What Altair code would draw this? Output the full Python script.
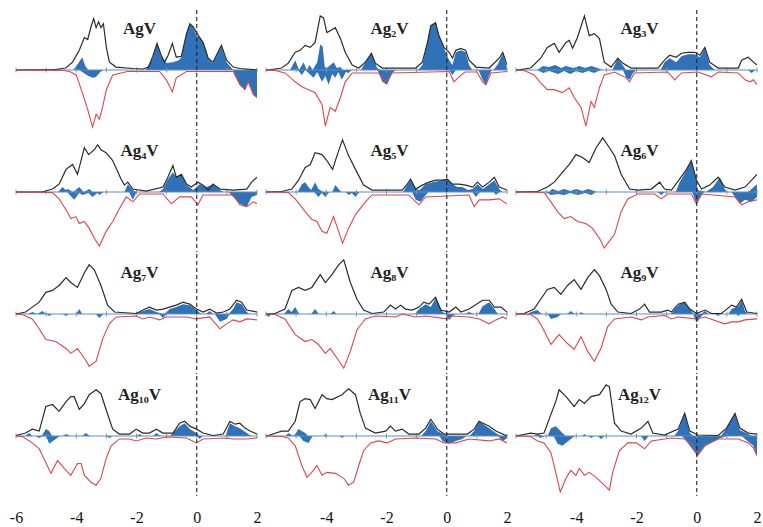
import altair as alt
import pandas as pd

NAMES = ["AgV", "Ag₂V", "Ag₃V", "Ag₄V", "Ag₅V", "Ag₆V",
         "Ag₇V", "Ag₈V", "Ag₉V", "Ag₁₀V", "Ag₁₁V", "Ag₁₂V"]
TICK_E = [-6, -5, -4, -3, -2, -1, 0, 1, 2]
XLAB_FIRST = [-6, -4, -2, 0, 2]
XLAB_OTHER = [-4, -2, 0, 2]

# ---- AgV ----
AGV_UP = [(-6,0),(-4.7,0.5),(-4.35,2),(-4.12,8),(-3.9,20),(-3.73,33),(-3.62,31),(-3.5,45),(-3.42,52),(-3.34,43),(-3.26,49),(-3.18,43),(-3.1,47),(-3.0,23),(-2.9,8),(-2.68,3),(-2.1,1.5),(-1.79,1),(-1.6,3),(-1.46,14),(-1.32,27),(-1.18,15),(-1.07,8),(-0.95,15),(-0.81,27),(-0.68,13),(-0.51,14),(-0.34,37),(-0.23,47),(-0.12,44),(-0.01,38),(0.1,33),(0.21,28),(0.38,12),(0.54,8),(0.82,25),(0.99,10),(1.21,3),(1.43,1.5),(2,0)]
AGV_DN = [(-6,0),(-4.4,-0.5),(-4.18,-2),(-4.0,-5),(-3.8,-23),(-3.62,-40),(-3.46,-58),(-3.34,-45),(-3.23,-50),(-3.12,-37),(-3.0,-20),(-2.79,-5),(-2.3,-1.5),(-1.23,-1.5),(-1.01,-10),(-0.81,-22),(-0.68,-8),(-0.34,-1.5),(1.21,-1.5),(1.43,-15),(1.6,-20),(1.71,-12),(1.88,-25),(2,-28)]
AGV_VUP = [(-6,0),(-4.1,0),(-3.95,6),(-3.8,13),(-3.7,4),(-3.6,0),(-1.7,0),(-1.46,12),(-1.32,27),(-1.18,14),(-1.01,7),(-0.79,8),(-0.6,10),(-0.51,13),(-0.34,37),(-0.23,47),(-0.12,43),(-0.01,35),(0.1,33),(0.23,28),(0.38,12),(0.54,7),(0.82,24),(0.99,8),(1.21,0),(2,0)]
AGV_VDN = [(-6,0),(-3.9,0),(-3.75,-3),(-3.6,-6),(-3.45,-8),(-3.35,-7),(-3.2,-2),(-3.1,0),(1.2,0),(1.43,-15),(1.6,-20),(1.71,-12),(1.88,-25),(2,-28)]

# ---- Ag2V ----
AG2V_UP = [(-6,0),(-5.92,0),(-5.48,2),(-5.26,7),(-5.03,18),(-4.87,20),(-4.7,25),(-4.53,23),(-4.37,28),(-4.2,55),(-4.09,53),(-3.98,38),(-3.87,40),(-3.7,43),(-3.53,32),(-3.37,18),(-3.14,5),(-2.92,2),(-2.7,8),(-2.5,17),(-2.37,7),(-2.14,2),(-1.03,2),(-0.81,8),(-0.64,28),(-0.53,45),(-0.37,48),(-0.26,35),(-0.09,23),(0.08,18),(0.19,12),(0.3,20),(0.47,22),(0.63,20),(0.74,10),(0.97,3),(1.41,2),(1.74,12),(1.86,18),(2,5)]
AG2V_DN = [(-6,0),(-5.7,-0.5),(-5.37,-3),(-5.03,-12),(-4.81,-17),(-4.59,-20),(-4.37,-23),(-4.14,-35),(-4.03,-57),(-3.87,-38),(-3.7,-42),(-3.53,-28),(-3.37,-12),(-3.14,-3),(-2.26,-3),(-2.03,-13),(-1.81,-3),(0.08,-1.5),(0.24,-12),(0.41,-7),(0.6,-2),(1.0,-2),(1.19,-12),(1.3,-15),(1.47,-3),(2,-1.5)]
AG2V_VUP = [(-6,0),(-5.2,0),(-5.03,10),(-4.9,0),(-4.75,8),(-4.65,0),(-4.55,5),(-4.45,0),(-4.3,8),(-4.2,26),(-4.12,24),(-4.05,3),(-3.98,2),(-3.75,8),(-3.65,2),(-3.53,3),(-3.45,0),(-2.85,0),(-2.7,8),(-2.5,17),(-2.31,2),(-2.2,0),(-0.95,0),(-0.81,5),(-0.64,28),(-0.53,45),(-0.37,48),(-0.26,35),(-0.09,22),(0.08,10),(0.19,5),(0.3,18),(0.47,20),(0.63,18),(0.74,5),(0.85,0),(1.55,0),(1.7,6),(1.86,17),(1.99,3),(2,0)]
AG2V_VDN = [(-6,0),(-4.95,0),(-4.81,-5),(-4.7,0),(-4.42,-8),(-4.3,-2),(-4.14,-12),(-4.03,-6),(-3.92,-15),(-3.8,-4),(-3.7,-8),(-3.6,-2),(-3.48,-10),(-3.35,-2),(-3.26,-3),(-3.15,0),(-2.3,0),(-2.14,-12),(-1.98,-15),(-1.81,-3),(-1.7,0),(0.08,0),(0.19,-5),(0.3,0),(1.05,0),(1.19,-10),(1.3,-15),(1.41,-5),(1.5,0),(2,0)]

# ---- Ag3V ----
AG3V_UP = [(-6,0),(-5.96,0),(-5.51,2),(-5.18,12),(-4.96,23),(-4.73,27),(-4.57,18),(-4.34,28),(-4.23,30),(-4.12,22),(-3.96,33),(-3.73,55),(-3.57,35),(-3.4,37),(-3.23,32),(-3.07,8),(-2.84,3),(-2.62,12),(-2.46,7),(-2.18,2),(-1.29,2),(-1.07,10),(-0.9,15),(-0.68,13),(-0.51,17),(-0.29,18),(-0.07,18),(0.1,15),(0.27,23),(0.43,8),(0.71,2),(1.38,2),(1.49,10),(1.71,13),(1.88,8),(2,5)]
AG3V_DN = [(-6,0),(-5.73,-0.5),(-5.4,-5),(-5.18,-13),(-4.96,-20),(-4.73,-20),(-4.46,-23),(-4.23,-18),(-4.07,-28),(-3.84,-38),(-3.68,-57),(-3.51,-32),(-3.4,-38),(-3.23,-18),(-3.07,-5),(-2.73,-2),(-2.34,-8),(-2.23,-12),(-2.07,-3),(-0.96,-2),(-0.73,-10),(-0.51,-3),(0.04,-2),(0.49,-7),(0.71,-2),(1.38,-3),(1.6,-10),(1.77,-12),(1.88,-10),(2,-15)]
AG3V_VUP = [(-6,0),(-5.3,0),(-5.1,4),(-4.9,3),(-4.7,5),(-4.5,2),(-4.35,4),(-4.1,2),(-3.9,4),(-3.7,2),(-3.5,4),(-3.3,2),(-3.1,0),(-2.8,0),(-2.62,12),(-2.46,5),(-2.35,0),(-1.2,0),(-1.07,8),(-0.9,12),(-0.68,8),(-0.51,14),(-0.29,16),(-0.07,16),(0.1,13),(0.27,22),(0.43,5),(0.6,0),(2,0)]
AG3V_VDN = [(-6,0),(-5.3,0),(-5.1,-3),(-4.9,-1),(-4.6,-4),(-4.4,-1),(-4.2,-4),(-4.0,-1),(-3.8,-3),(-3.6,-1),(-3.4,-3),(-3.2,0),(-2.45,0),(-2.34,-8),(-2.23,-10),(-2.12,-3),(-2.0,0),(1.7,0),(1.82,-3),(1.95,0),(2,0)]

# ---- Ag4V ----
AG4V_UP = [(-6,0),(-5.12,0),(-4.79,3),(-4.57,8),(-4.34,23),(-4.12,28),(-3.96,18),(-3.73,45),(-3.59,38),(-3.4,43),(-3.29,48),(-3.18,43),(-3.01,40),(-2.79,32),(-2.51,13),(-2.4,7),(-2.29,10),(-2.12,3),(-1.68,1),(-1.12,5),(-0.96,15),(-0.79,27),(-0.68,15),(-0.51,18),(-0.34,8),(-0.18,5),(0.04,10),(0.21,7),(0.38,2),(0.54,8),(0.77,3),(1.21,2),(1.66,3),(1.82,10),(2,15)]
AG4V_DN = [(-6,0),(-4.79,-0.5),(-4.57,-7),(-4.34,-18),(-4.18,-27),(-4.01,-25),(-3.9,-32),(-3.73,-30),(-3.57,-37),(-3.4,-47),(-3.23,-55),(-3.01,-40),(-2.79,-30),(-2.57,-17),(-2.34,-5),(-2.12,-10),(-1.9,-2),(-1.12,-2),(-0.84,-12),(-0.57,-5),(-0.18,-5),(0.04,-13),(0.21,-3),(1.21,-3),(1.43,-13),(1.66,-15),(1.88,-10),(2,-12)]
AG4V_VUP = [(-6,0),(-4.6,0),(-4.46,5),(-4.35,2),(-4.29,3),(-4.1,0),(-3.9,5),(-3.75,0),(-3.57,3),(-3.45,0),(-2.4,0),(-2.29,8),(-2.12,2),(-2.0,0),(-1.25,0),(-1.12,3),(-0.96,13),(-0.79,20),(-0.68,15),(-0.51,18),(-0.34,7),(-0.12,2),(0.1,8),(0.32,5),(0.54,8),(0.77,2),(0.9,0),(2,0)]
AG4V_VDN = [(-6,0),(-4.3,0),(-4.07,-8),(-3.9,-1),(-3.79,-3),(-3.6,-1),(-3.46,-5),(-3.3,-1),(-3.23,-3),(-3.1,0),(-2.25,0),(-2.12,-8),(-2.0,0),(1.05,0),(1.21,-5),(1.43,-12),(1.66,-15),(1.82,-5),(2,-3)]

# ---- Ag5V ----
AG5V_UP = [(-6,0),(-5.48,0.5),(-5.14,3),(-4.92,12),(-4.7,25),(-4.53,28),(-4.37,40),(-4.14,38),(-3.98,32),(-3.79,23),(-3.61,40),(-3.46,53),(-3.26,37),(-3.03,23),(-2.76,7),(-2.48,2),(-1.48,2),(-1.31,8),(-1.2,13),(-1.03,3),(-0.81,7),(-0.59,10),(-0.37,12),(-0.14,12),(0.02,13),(0.19,8),(0.41,8),(0.63,7),(0.86,5),(1.02,10),(1.19,5),(1.41,10),(1.58,15),(1.74,5),(2,2)]
AG5V_DN = [(-6,0),(-5.26,-0.5),(-5.03,-7),(-4.7,-20),(-4.48,-28),(-4.31,-30),(-4.14,-40),(-3.98,-42),(-3.76,-25),(-3.59,-40),(-3.46,-52),(-3.26,-37),(-3.03,-23),(-2.7,-10),(-2.48,-3),(-1.26,-3),(-1.03,-10),(-0.92,-13),(-0.7,-5),(0.74,-3),(0.91,-15),(1.08,-8),(1.41,-8),(1.74,-7),(2,-12)]
AG5V_VUP = [(-6,0),(-4.95,0),(-4.81,8),(-4.7,10),(-4.59,5),(-4.5,2),(-4.37,10),(-4.26,3),(-4.1,0),(-3.8,0),(-3.7,7),(-3.59,3),(-3.5,0),(-1.45,0),(-1.31,7),(-1.2,12),(-1.03,3),(-0.9,2),(-0.7,8),(-0.48,10),(-0.14,12),(0.02,13),(0.19,8),(0.35,5),(0.52,5),(0.7,2),(0.86,3),(1.02,8),(1.2,3),(1.41,8),(1.58,12),(1.74,3),(1.85,0),(2,0)]
AG5V_VDN = [(-6,0),(-4.4,0),(-4.26,-5),(-4.15,-1),(-4.03,-5),(-3.9,0),(-3.35,0),(-3.26,-3),(-3.15,-1),(-3.03,-5),(-2.9,0),(-1.15,0),(-1.03,-8),(-0.87,-10),(-0.7,-3),(-0.6,0),(0.85,0),(0.97,-5),(1.1,0),(1.55,0),(1.63,-3),(1.75,0),(2,0)]

# ---- Ag6V ----
AG6V_UP = [(-6,0),(-5.29,0.5),(-4.96,5),(-4.73,10),(-4.46,20),(-4.23,28),(-4.01,38),(-3.79,35),(-3.57,30),(-3.34,45),(-3.12,55),(-2.9,45),(-2.73,37),(-2.51,18),(-2.23,3),(-1.96,2),(-1.51,3),(-1.23,10),(-1.07,3),(-0.84,2),(-0.57,13),(-0.34,23),(-0.18,32),(-0.01,12),(0.16,3),(0.43,7),(0.71,15),(0.93,5),(1.27,2),(1.6,5),(1.82,12),(2,18)]
AG6V_DN = [(-6,0),(-5.07,-0.5),(-4.84,-10),(-4.62,-20),(-4.4,-27),(-4.18,-25),(-3.96,-30),(-3.68,-32),(-3.46,-37),(-3.23,-47),(-3.07,-57),(-2.9,-50),(-2.73,-43),(-2.51,-20),(-2.29,-7),(-1.96,-2),(-1.4,-2),(-1.18,-7),(-0.96,-2),(-0.18,-2),(-0.01,-12),(0.16,-2),(1.27,-5),(1.49,-13),(1.71,-10),(2,-8)]
AG6V_VUP = [(-6,0),(-4.9,0),(-4.8,3),(-4.6,1),(-4.4,3),(-4.2,1),(-4.0,3),(-3.8,1),(-3.6,3),(-3.4,1),(-3.3,0),(-0.7,0),(-0.57,10),(-0.34,22),(-0.18,32),(-0.04,15),(0.04,2),(0.3,0),(0.54,5),(0.77,15),(0.93,3),(1.0,0),(1.7,0),(1.82,3),(2,8)]
AG6V_VDN = [(-6,0),(-5.0,0),(-4.85,-3),(-4.6,-2),(-4.4,-3),(-4.2,-1),(-3.95,-3),(-3.7,-1),(-3.5,-3),(-3.35,0),(-1.3,0),(-1.18,-3),(-1.05,0),(-0.15,0),(-0.01,-12),(0.16,-3),(0.25,0),(1.15,0),(1.27,-5),(1.43,-12),(1.6,-8),(1.82,-10),(2,-5)]

# ---- Ag7V ----
AG7V_UP = [(-6,0),(-5.68,2),(-5.46,7),(-5.23,12),(-5.01,22),(-4.79,24),(-4.57,29),(-4.34,37),(-4.18,32),(-3.96,27),(-3.73,42),(-3.57,50),(-3.4,45),(-3.18,29),(-2.96,9),(-2.73,2),(-2.01,0.5),(-1.79,4),(-1.57,7),(-1.34,4),(-1.12,5),(-0.9,7),(-0.68,9),(-0.46,12),(-0.23,10),(-0.01,5),(0.21,2),(0.43,5),(0.66,1),(0.88,2),(1.1,5),(1.32,14),(1.49,12),(1.66,4),(2,2)]
AG7V_DN = [(-6,0),(-5.79,-0.5),(-5.46,-5),(-5.23,-15),(-5.01,-26),(-4.68,-28),(-4.34,-35),(-4.18,-40),(-3.96,-35),(-3.73,-45),(-3.57,-53),(-3.34,-48),(-3.12,-25),(-2.9,-10),(-2.68,-3),(-2.01,-2),(-1.79,-5),(-1.57,-3),(-1.23,-6),(-1.01,-3),(-0.34,-3),(-0.01,-5),(0.43,-3),(0.77,-15),(0.99,-10),(1.21,-6),(1.43,-8),(1.66,-5),(2,-6)]
AG7V_VUP = [(-6,0),(-5.6,0),(-5.46,2),(-5.3,0),(-5.12,3),(-5.0,0),(-4.0,0),(-3.9,5),(-3.8,0),(-2.0,0),(-1.9,2),(-1.57,5),(-1.34,2),(-1.1,0),(-1.0,2),(-0.9,5),(-0.68,7),(-0.46,10),(-0.23,9),(-0.01,4),(0.15,0),(0.3,0),(0.43,3),(0.55,0),(1.05,0),(1.21,5),(1.32,12),(1.49,10),(1.66,2),(1.75,0),(2,0)]
AG7V_VDN = [(-6,0),(-5.0,0),(-4.9,-2),(-4.8,0),(-4.45,0),(-4.34,-2),(-4.25,0),(-3.35,0),(-3.23,-4),(-3.1,0),(-1.25,0),(-1.12,-4),(-1.0,0),(0.6,0),(0.77,-8),(0.99,-5),(1.1,0),(2,0)]

# ---- Ag8V ----
AG8V_UP = [(-6,0),(-5.7,0.5),(-5.37,5),(-5.14,24),(-4.92,27),(-4.7,24),(-4.48,27),(-4.2,40),(-4.03,32),(-3.81,40),(-3.59,50),(-3.42,55),(-3.2,32),(-2.98,15),(-2.76,4),(-2.48,0.5),(-2.09,2),(-1.87,9),(-1.7,5),(-1.53,9),(-1.37,5),(-1.14,4),(-0.92,7),(-0.76,12),(-0.59,10),(-0.37,17),(-0.2,4),(0.08,2),(0.3,7),(0.47,2),(0.74,5),(1.19,14),(1.41,14),(1.58,7),(1.8,7),(2,2)]
AG8V_DN = [(-6,0),(-5.7,-0.5),(-5.37,-5),(-5.03,-21),(-4.7,-28),(-4.48,-26),(-4.26,-31),(-4.03,-40),(-3.87,-35),(-3.64,-45),(-3.42,-55),(-3.2,-38),(-2.98,-16),(-2.7,-5),(-2.37,-2),(-1.7,-3),(-1.48,0),(-1.03,-3),(-0.7,-2),(0.02,-5),(0.19,-2),(0.74,-3),(1.08,-5),(1.41,-10),(1.63,-6),(1.86,-3),(2,-5)]
AG8V_VUP = [(-6,0),(-5.4,0),(-5.26,5),(-5.15,2),(-5.03,7),(-4.9,0),(-4.5,0),(-4.37,5),(-4.25,0),(-3.85,0),(-3.76,3),(-3.65,0),(-1.05,0),(-0.92,5),(-0.7,10),(-0.53,7),(-0.37,16),(-0.26,10),(-0.14,2),(0.0,0),(0.6,0),(0.74,2),(0.9,0),(1.05,0),(1.19,8),(1.41,12),(1.58,5),(1.7,0),(2,0)]
AG8V_VDN = [(-6,0),(-5.92,-3),(-5.8,0),(-0.05,0),(0.08,-6),(0.19,-2),(0.3,0),(2,0)]

# ---- Ag9V ----
AG9V_UP = [(-6,0),(-5.73,0.5),(-5.4,5),(-5.18,15),(-4.96,25),(-4.73,27),(-4.51,20),(-4.29,29),(-4.07,35),(-3.84,25),(-3.62,37),(-3.4,45),(-3.23,39),(-3.01,25),(-2.84,10),(-2.62,2),(-2.18,0.5),(-1.9,5),(-1.73,10),(-1.57,2),(-1.18,2),(-0.96,4),(-0.84,2),(-0.62,10),(-0.4,12),(-0.23,5),(-0.01,0.5),(0.27,4),(0.49,0.5),(0.82,0.5),(1.16,9),(1.32,7),(1.49,15),(1.66,2),(2,0.5)]
AG9V_DN = [(-6,0),(-5.51,-0.5),(-5.29,-5),(-5.1,-15),(-4.84,-31),(-4.57,-21),(-4.29,-30),(-4.07,-36),(-3.84,-23),(-3.62,-38),(-3.4,-48),(-3.18,-35),(-2.96,-13),(-2.73,-5),(-2.18,-3),(-1.84,-6),(-1.62,-3),(-1.07,-1.5),(-0.84,-5),(-0.62,-3),(-0.01,-5),(0.27,-3),(0.93,-10),(1.16,-8),(1.38,-8),(1.6,-6),(2,-5)]
AG9V_VUP = [(-6,0),(-5.6,0),(-5.51,2),(-5.29,4),(-5.15,0),(-4.3,0),(-4.18,3),(-4.05,0),(-3.9,0),(-3.84,2),(-3.75,0),(-0.85,0),(-0.73,5),(-0.57,10),(-0.4,12),(-0.23,5),(-0.1,0),(0.15,0),(0.27,3),(0.4,0),(1.05,0),(1.16,5),(1.38,8),(1.49,14),(1.6,3),(1.7,0),(2,0)]
AG9V_VDN = [(-6,0),(-4.95,0),(-4.84,-5),(-4.62,-3),(-4.5,0),(-0.12,0),(-0.01,-9),(0.16,-2),(0.25,0),(0.6,0),(0.71,-2),(0.8,0),(1.3,0),(1.38,-2),(1.45,0),(2,0)]

# ---- Ag10V ----
AG10V_UP = [(-6,0.5),(-5.68,3),(-5.46,7),(-5.23,5),(-5.01,30),(-4.79,32),(-4.57,25),(-4.34,35),(-4.18,40),(-4.07,40),(-3.9,27),(-3.73,33),(-3.57,42),(-3.34,47),(-3.18,43),(-3.01,27),(-2.79,7),(-2.57,2),(-2.23,2),(-2.01,7),(-1.79,3),(-1.57,3),(-1.34,7),(-1.12,3),(-0.79,3),(-0.57,13),(-0.4,15),(-0.23,10),(-0.01,7),(0.21,3),(0.54,0.5),(0.88,2),(1.1,15),(1.27,12),(1.43,13),(1.6,8),(1.77,5),(2,2)]
AG10V_DN = [(-6,0),(-5.79,-0.5),(-5.46,-7),(-5.23,-13),(-5.01,-27),(-4.84,-38),(-4.62,-25),(-4.4,-33),(-4.18,-40),(-3.96,-28),(-3.84,-28),(-3.73,-40),(-3.51,-47),(-3.34,-50),(-3.18,-43),(-3.01,-23),(-2.84,-10),(-2.57,-3),(-2.23,-3),(-2.01,-5),(-1.68,-2),(-1.34,-3),(-1.01,-1),(-0.34,-2),(-0.01,-7),(0.21,-3),(0.99,-2),(1.21,-3),(1.66,-3),(2,-2)]
AG10V_VUP = [(-6,0),(-5.7,0),(-5.57,3),(-5.45,0),(-5.15,0),(-5.01,7),(-4.9,5),(-4.8,0),(-4.45,0),(-4.34,2),(-4.2,0),(-3.8,0),(-3.68,3),(-3.55,0),(-2.0,0),(-1.9,2),(-1.8,0),(-1.45,0),(-1.34,3),(-1.2,0),(-0.9,0),(-0.79,3),(-0.57,10),(-0.4,13),(-0.23,7),(-0.01,3),(0.1,0),(0.95,0),(1.1,13),(1.27,10),(1.43,8),(1.66,3),(1.8,0),(2,0)]
AG10V_VDN = [(-6,0),(-5.35,0),(-5.23,-2),(-5.1,0),(-5.0,0),(-4.9,-8),(-4.68,-3),(-4.55,0),(-3.0,0),(-2.9,-2),(-2.8,0),(0.0,0),(0.1,-3),(0.2,0),(2,0)]

# ---- Ag11V ----
AG11V_UP = [(-6,0),(-5.92,0.5),(-5.48,5),(-5.26,5),(-5.03,15),(-4.87,35),(-4.7,38),(-4.53,37),(-4.37,28),(-4.14,42),(-3.98,38),(-3.81,37),(-3.48,42),(-3.26,48),(-3.03,42),(-2.87,23),(-2.7,8),(-2.37,3),(-2.03,5),(-1.87,10),(-1.7,5),(-1.48,7),(-1.26,2),(-0.92,2),(-0.7,8),(-0.53,17),(-0.31,7),(-0.09,2),(0.24,2),(0.69,2),(0.91,7),(1.07,15),(1.41,10),(1.63,5),(2,0)]
AG11V_DN = [(-6,0),(-5.48,-0.5),(-5.26,-2),(-5.03,-10),(-4.81,-30),(-4.64,-42),(-4.48,-37),(-4.31,-30),(-4.14,-40),(-3.98,-37),(-3.7,-38),(-3.42,-43),(-3.26,-50),(-3.09,-47),(-2.92,-30),(-2.76,-15),(-2.53,-7),(-2.26,-5),(-1.98,-7),(-1.7,-3),(-1.03,-2),(-0.37,-3),(-0.09,-7),(0.3,-7),(0.74,-3),(1.41,-5),(1.74,-3),(2,-7)]
AG11V_VUP = [(-6,0),(-5.35,0),(-5.26,3),(-5.1,0),(-5.03,2),(-4.92,7),(-4.7,3),(-4.6,0),(-4.1,0),(-4.03,2),(-3.95,0),(-0.85,0),(-0.7,5),(-0.53,15),(-0.31,5),(-0.14,2),(0.0,0),(0.75,0),(0.91,5),(1.07,15),(1.41,8),(1.63,3),(1.8,0),(2,0)]
AG11V_VDN = [(-6,0),(-4.9,0),(-4.76,-5),(-4.59,-7),(-4.45,0),(-3.55,0),(-3.48,-2),(-3.4,0),(-0.25,0),(-0.14,-5),(0.08,-8),(0.3,-5),(0.52,-3),(0.65,0),(1.7,0),(1.86,-5),(2,-2)]

# ---- Ag12V ----
AG12V_UP = [(-6,0),(-5.51,3),(-5.29,2),(-5.07,3),(-4.84,22),(-4.68,35),(-4.57,47),(-4.34,40),(-4.07,30),(-3.9,37),(-3.73,33),(-3.51,40),(-3.23,42),(-3.01,52),(-2.9,50),(-2.73,13),(-2.51,5),(-2.18,2),(-1.84,8),(-1.62,15),(-1.46,3),(-1.07,1),(-0.62,7),(-0.4,23),(-0.23,5),(0.04,1),(0.71,0.5),(0.99,8),(1.27,23),(1.43,8),(1.71,3),(2,2)]
AG12V_DN = [(-6,0),(-5.51,-0.5),(-5.29,-5),(-5.07,-7),(-4.84,-17),(-4.68,-37),(-4.53,-57),(-4.34,-43),(-4.18,-35),(-4.01,-40),(-3.9,-33),(-3.73,-40),(-3.57,-37),(-3.34,-42),(-3.07,-50),(-2.9,-55),(-2.79,-37),(-2.57,-15),(-2.29,-7),(-2.01,-7),(-1.73,-13),(-1.51,-5),(-0.84,-2),(-0.4,-3),(-0.18,-8),(0.02,-20),(0.27,-10),(0.71,-3),(1.38,-3),(1.71,-7),(1.88,-12),(2,-20)]
AG12V_VUP = [(-6,0),(-5.4,0),(-5.29,2),(-5.1,0),(-4.95,0),(-4.84,8),(-4.68,10),(-4.46,3),(-4.35,0),(-3.8,0),(-3.73,2),(-3.65,0),(-0.75,0),(-0.62,5),(-0.4,23),(-0.23,3),(-0.1,0),(0.8,0),(0.93,5),(1.27,23),(1.43,6),(1.71,2),(1.85,0),(2,0)]
AG12V_VDN = [(-6,0),(-5.3,0),(-5.18,-2),(-5.05,0),(-4.75,0),(-4.62,-8),(-4.46,-10),(-4.18,-3),(-4.05,0),(-3.6,0),(-3.51,-2),(-3.4,0),(-3.28,0),(-3.18,-3),(-3.05,0),(-1.85,0),(-1.73,-5),(-1.6,0),(-0.5,0),(-0.4,-3),(-0.18,-12),(0.02,-20),(0.27,-10),(0.71,-3),(1.0,0),(1.5,0),(1.6,-3),(1.88,-10),(2,-20)]

SERIES = [
    (AGV_UP, AGV_DN, AGV_VUP, AGV_VDN),
    (AG2V_UP, AG2V_DN, AG2V_VUP, AG2V_VDN),
    (AG3V_UP, AG3V_DN, AG3V_VUP, AG3V_VDN),
    (AG4V_UP, AG4V_DN, AG4V_VUP, AG4V_VDN),
    (AG5V_UP, AG5V_DN, AG5V_VUP, AG5V_VDN),
    (AG6V_UP, AG6V_DN, AG6V_VUP, AG6V_VDN),
    (AG7V_UP, AG7V_DN, AG7V_VUP, AG7V_VDN),
    (AG8V_UP, AG8V_DN, AG8V_VUP, AG8V_VDN),
    (AG9V_UP, AG9V_DN, AG9V_VUP, AG9V_VDN),
    (AG10V_UP, AG10V_DN, AG10V_VUP, AG10V_VDN),
    (AG11V_UP, AG11V_DN, AG11V_VUP, AG11V_VDN),
    (AG12V_UP, AG12V_DN, AG12V_VUP, AG12V_VDN),
]

BLUE = "#2f72b8"
BLACK = "#2b2b2b"
RED = "#e0444a"
FONT = "Liberation Serif"
PW, PH = 241, 120


def frame(pts):
    return pd.DataFrame(pts, columns=["e", "v"])


def panel(idx):
    name = NAMES[idx]
    up, dn, vup, vdn = SERIES[idx]
    row, col = divmod(idx, 3)
    xs = alt.Scale(domain=[-6, 2], nice=False, zero=False)
    ys = alt.Scale(domain=[-61, 61], nice=False)
    if row == 3:
        xaxis = alt.Axis(values=XLAB_FIRST if col == 0 else XLAB_OTHER,
                         labelExpr="datum.value",
                         domain=False, ticks=False, grid=False, title=None,
                         labelFont=FONT, labelFontSize=16, labelColor="#111",
                         labelPadding=13, labelFlush=False)
    else:
        xaxis = None
    X = alt.X("e:Q", scale=xs, axis=xaxis)
    Y = alt.Y("v:Q", scale=ys, axis=None)

    a_up = alt.Chart(frame(vup)).mark_area(color=BLUE, opacity=1, clip=True).encode(
        x=X, y=Y)
    a_dn = alt.Chart(frame(vdn)).mark_area(color=BLUE, opacity=1, clip=True).encode(
        x=X, y=Y)
    zero = alt.Chart(pd.DataFrame({"v": [0]})).mark_rule(
        color="#5a8fc8", strokeWidth=1.2).encode(y=Y)
    tk = pd.DataFrame({"e": TICK_E})
    tk["lo"] = -2.5
    tk["hi"] = 2.5
    ticks = alt.Chart(tk).mark_rule(color="#7f93aa", strokeWidth=1).encode(
        x=X, y=alt.Y("lo:Q", scale=ys, axis=None), y2="hi:Q")
    l_up = alt.Chart(frame(up)).mark_line(color=BLACK, strokeWidth=1.2, clip=True).encode(
        x=X, y=Y)
    l_dn = alt.Chart(frame(dn)).mark_line(color=RED, strokeWidth=1.1, clip=True).encode(
        x=X, y=Y)
    dash = alt.Chart(pd.DataFrame({"e": [0]})).mark_rule(
        color="#222", strokeWidth=1.1, strokeDash=[4, 3]).encode(x=X)
    label = alt.Chart(pd.DataFrame({"e": [-1.9], "v": [42], "t": [name]})).mark_text(
        font=FONT, fontWeight="bold", fontSize=17, color="#222",
        align="center", baseline="middle").encode(x=X, y=Y, text="t:N")
    return alt.layer(a_up, a_dn, zero, ticks, l_up, l_dn, dash, label).properties(
        width=PW, height=PH)


rows = []
for r in range(4):
    rows.append(alt.hconcat(*[panel(r * 3 + c) for c in range(3)],
                            spacing=9, bounds="flush"))

chart = alt.vconcat(*rows, spacing=0).properties(
    padding={"left": 9, "top": 9, "right": 0, "bottom": 0},
    background="white",
).configure_view(strokeWidth=0, stroke=None)

chart.save("out.html", embed_options={"renderer": "svg", "actions": False})
